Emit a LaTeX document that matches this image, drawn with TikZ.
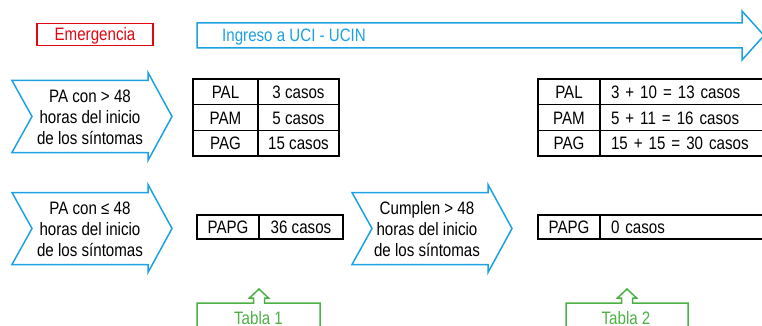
\documentclass[tikz,border=0pt]{standalone}
\usepackage{fontspec}
\setmainfont{Liberation Sans}[FakeStretch=0.84]
\usepackage{xcolor}
\usetikzlibrary{positioning}
\definecolor{uciblue}{RGB}{29,161,226}
\definecolor{emred}{RGB}{227,6,19}
\definecolor{tabgreen}{RGB}{76,176,68}

\begin{document}
\begin{tikzpicture}[x=1pt, y=-1pt, node distance=0pt,
    font=\fontsize{18}{21}\selectfont,
    lbl/.style={text height=13pt, text depth=0pt, inner sep=0pt},
    cell/.style={lbl, draw=black, line width=1.3pt, outer sep=0pt, minimum height=25.7pt},
    widecell/.style={cell, text width=178pt, align=left, inner xsep=11pt},
    chevron/.style={draw=uciblue, line width=1.5pt, line join=miter},
    callout/.style={draw=tabgreen, line width=1.5pt, line join=miter}]
    \useasboundingbox (0,0) rectangle (762,326);

    % Headers
    \node[lbl, draw=emred, line width=1.5pt, minimum width=116pt, minimum height=22pt,
          text=emred] (emergencia) at (95,34.5) {Emergencia};
    \draw[chevron] (197,23) -- (742,23) -- (742,11) -- (764,35.5) -- (742,60)
        -- (742,48) -- (197,48) -- cycle;
    \node[lbl, anchor=west, text=uciblue] (ingreso) at (222,35.5) {Ingreso a UCI - UCIN};

    % Chevrons
    \foreach \x/\y in {0/116.5, 0/228.5, 340/228.5}
        \draw[chevron] (12+\x,\y-36) -- (148+\x,\y-36) -- (148+\x,\y-44) -- (172+\x,\y)
            -- (148+\x,\y+44) -- (148+\x,\y+36) -- (12+\x,\y+36) -- (32+\x,\y) -- cycle;
    \node[align=center] (tardio) at (90,117) {PA con > 48\\horas del inicio\\de los síntomas};
    \node[align=center] (precoz) at (90,229) {PA con ≤ 48\\horas del inicio\\de los síntomas};
    \node[align=center] (cumplen) at (427,229) {Cumplen > 48\\horas del inicio\\de los síntomas};

    % Table 1
    \node[cell, anchor=north west, minimum width=65pt] (pal1) at (193,79) {PAL};
    \node[cell, minimum width=81pt, right=of pal1] (palcasos1) {3 casos};
    \node[cell, minimum width=65pt, below=of pal1] (pam1) {PAM};
    \node[cell, minimum width=81pt, right=of pam1] (pamcasos1) {5 casos};
    \node[cell, minimum width=65pt, below=of pam1] (pag1) {PAG};
    \node[cell, minimum width=81pt, right=of pag1] (pagcasos1) {15 casos};
    \node[cell, anchor=north west, minimum width=62pt, minimum height=24pt] (papg1) at (197,215) {PAPG};
    \node[cell, minimum width=84pt, minimum height=24pt, right=of papg1] (papgcasos1) {36 casos};

    % Table 2
    \node[cell, anchor=north west, minimum width=62pt] (pal2) at (538,79) {PAL};
    \node[widecell, right=of pal2] (palcasos2) {3 + 10 = 13 casos};
    \node[cell, minimum width=62pt, below=of pal2] (pam2) {PAM};
    \node[widecell, right=of pam2] (pamcasos2) {5 + 11 = 16 casos};
    \node[cell, minimum width=62pt, below=of pam2] (pag2) {PAG};
    \node[widecell, right=of pag2] (pagcasos2) {15 + 15 = 30 casos};
    \node[cell, anchor=north west, minimum width=62pt, minimum height=24pt] (papg2) at (538,215) {PAPG};
    \node[widecell, minimum height=24pt, right=of papg2] (papgcasos2) {0 casos};

    % Callouts
    \draw[callout] (197,340) -- (197,303) -- (253.5,303) -- (253.5,298) -- (249.5,298)
        -- (259,289) -- (268.5,298) -- (264.5,298) -- (264.5,303) -- (320,303) -- (320,340);
    \node[lbl, anchor=base, text=tabgreen] (tabla1) at (258.5,324) {Tabla 1};
    \draw[callout] (566,340) -- (566,303) -- (621.5,303) -- (621.5,298) -- (617.5,298)
        -- (627,289) -- (636.5,298) -- (632.5,298) -- (632.5,303) -- (688,303) -- (688,340);
    \node[lbl, anchor=base, text=tabgreen] (tabla2) at (626,324) {Tabla 2};
\end{tikzpicture}
\end{document}
